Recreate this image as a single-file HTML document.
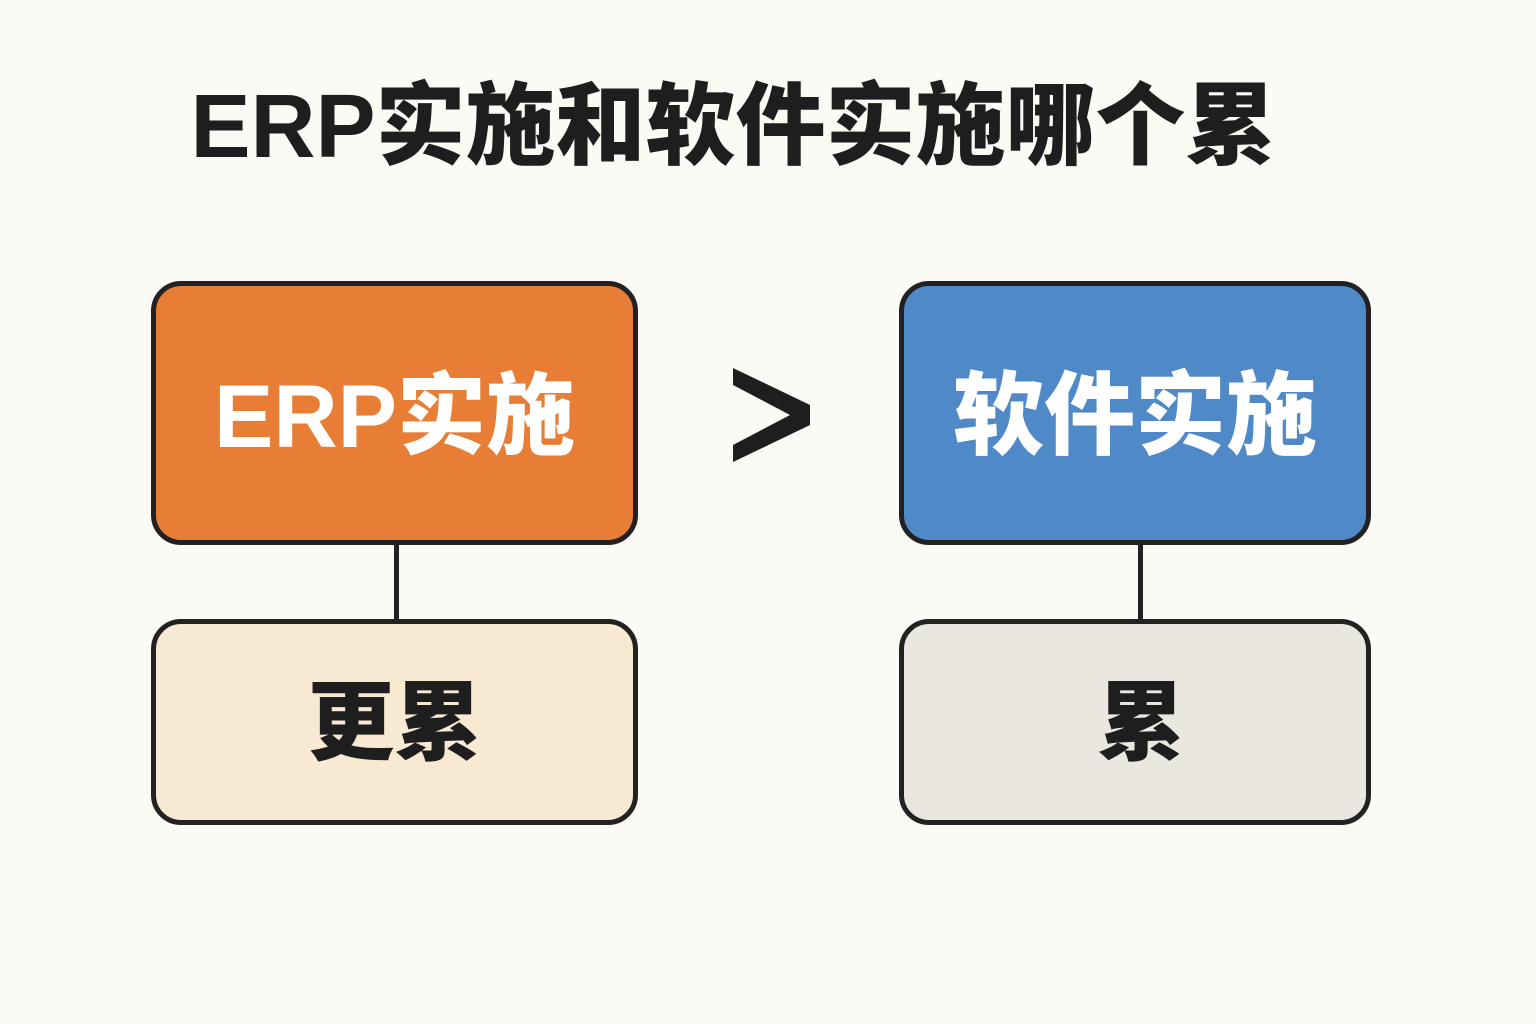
<!DOCTYPE html>
<html><head><meta charset="utf-8"><style>
body{margin:0;width:1536px;height:1024px;background:#FCFAF5;position:relative;overflow:hidden;font-family:"Liberation Sans","Noto Sans CJK SC",sans-serif;font-weight:bold}
.t{position:absolute;left:0;width:1466px;text-align:center;top:72px;font-size:90px;color:#1e1e1e;line-height:110px;font-weight:900}
.b{position:absolute;box-sizing:border-box;border:5px solid #222;border-radius:30px;display:flex;align-items:center;justify-content:center;font-weight:900}
.l{position:absolute;width:5px;background:#222}
</style></head><body>
<div class="t">ERP实施和软件实施哪个累</div>
<div class="b" style="left:151px;top:281px;width:487px;height:264px;background:#E87E35;color:#fff;font-size:89px;padding-bottom:10px">ERP实施</div>
<div class="b" style="left:899px;top:281px;width:472px;height:264px;background:#5089C8;color:#fff;font-size:91px;padding-bottom:10px">软件实施</div>
<div class="l" style="left:394px;top:545px;height:76px"></div>
<div class="l" style="left:1138px;top:545px;height:76px"></div>
<div class="b" style="left:151px;top:619px;width:487px;height:206px;background:#F8E9D2;color:#1e1e1e;font-size:87px;padding-bottom:12px">更累</div>
<div class="b" style="left:899px;top:619px;width:472px;height:206px;background:#EAE6E0;color:#1e1e1e;font-size:87px;padding-bottom:12px;padding-left:12px">累</div>
<svg style="position:absolute;left:0;top:0" width="1536" height="1024"><polygon points="733,368 810,405 810,425 733,462 733,445 790,415 733,385" fill="#1e1e1e"/></svg>
</body></html>
